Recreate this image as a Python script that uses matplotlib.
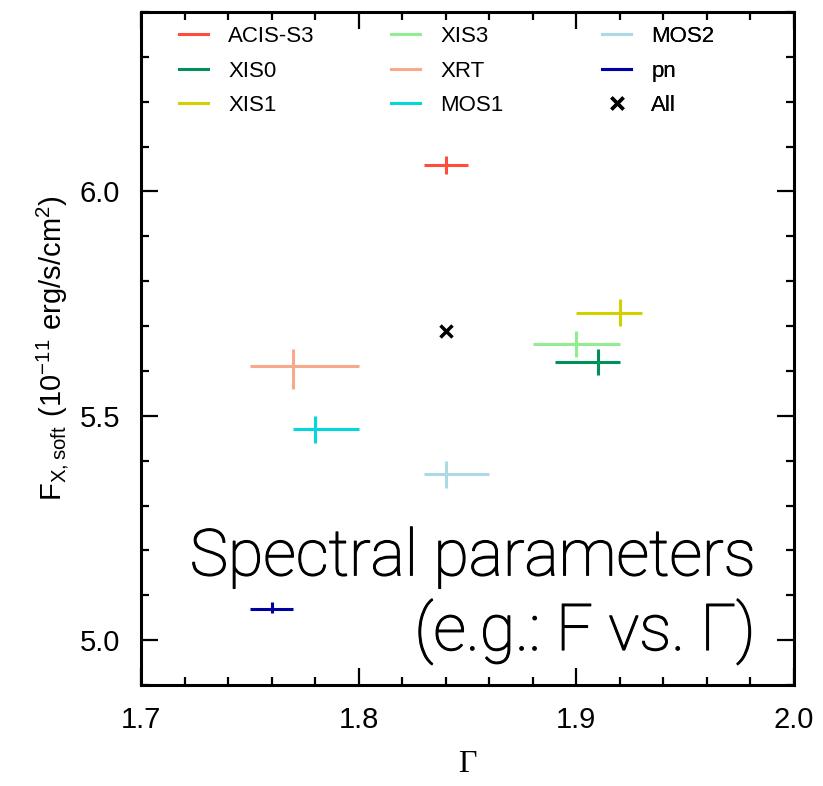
import matplotlib
matplotlib.use('Agg')
import matplotlib.pyplot as plt
import matplotlib.patheffects as pe
from matplotlib.lines import Line2D
from matplotlib.ticker import MultipleLocator

# instruments and their best-fit values
names = ['ACIS-S3', 'XIS0', 'XIS1', 'XIS3', 'XRT', 'MOS1', 'MOS2', 'pn']
gamma = [1.84, 1.91, 1.92, 1.90, 1.77, 1.78, 1.84, 1.76]
gamma_lo = [0.01, 0.02, 0.02, 0.02, 0.02, 0.01, 0.01, 0.01]
gamma_hi = [0.01, 0.01, 0.01, 0.02, 0.03, 0.02, 0.02, 0.01]
flux = [6.06, 5.62, 5.73, 5.66, 5.61, 5.47, 5.37, 5.07]
flux_lo = [0.02, 0.03, 0.03, 0.03, 0.05, 0.03, 0.03, 0.01]
flux_hi = [0.02, 0.03, 0.03, 0.03, 0.04, 0.03, 0.03, 0.015]
colors = ['#ff4d3d', '#00905a', '#d4d000', '#90ee90', '#f8a98c', '#00d8dc', '#add8e6', '#0000a0']

# joint fit
all_gamma = 1.84
all_flux = 5.69

plt.rcParams['font.family'] = ['Liberation Sans', 'DejaVu Sans']

fig = plt.figure(figsize=(8.23, 7.86), dpi=100)
ax = fig.add_axes([141/823, 1 - 685/786, 653/823, 673/786])

for i in range(len(names)):
    ax.errorbar(gamma[i], flux[i],
                xerr=[[gamma_lo[i]], [gamma_hi[i]]],
                yerr=[[flux_lo[i]], [flux_hi[i]]],
                fmt='none', ecolor=colors[i], elinewidth=2.2, capsize=0)
ax.plot(all_gamma, all_flux, 'x', color='k', ms=9, mew=2.5)

ax.set_xlim(1.7, 2.0)
ax.set_ylim(4.9, 6.4)
ax.xaxis.set_major_locator(MultipleLocator(0.1))
ax.xaxis.set_minor_locator(MultipleLocator(0.02))
ax.yaxis.set_major_locator(MultipleLocator(0.5))
ax.yaxis.set_minor_locator(MultipleLocator(0.1))
ax.xaxis.set_major_formatter(plt.FormatStrFormatter('%.1f'))
ax.yaxis.set_major_formatter(plt.FormatStrFormatter('%.1f'))
ax.tick_params(which='both', direction='in', top=True, right=True,
               labelsize=21, pad=15)
ax.tick_params(which='major', length=12, width=1.6)
ax.tick_params(which='minor', length=6, width=1.6)
for s in ax.spines.values():
    s.set_linewidth(2.2)

ax.set_xlabel('Γ', fontsize=23, family='Liberation Serif', labelpad=12)
ax.set_ylabel(r'$\mathregular{F_{X,soft}\ (10^{-11}\ erg/s/cm^2)}$', fontsize=21, labelpad=6)

# legend, one column at a time
handles = [Line2D([], [], color=c, lw=2.2) for c in colors]
handles.append(Line2D([], [], color='k', marker='x', ls='none', ms=8, mew=2.5))
labels = names + ['All']
col_x = [0.045, 0.37, 0.693]
for k in range(3):
    leg = ax.legend(handles[3*k:3*k+3], labels[3*k:3*k+3], loc='upper left',
                    bbox_to_anchor=(col_x[k], 0.992), frameon=False, fontsize=16,
                    handlelength=1.3, handletextpad=0.9, labelspacing=0.6,
                    borderaxespad=0.0)
    ax.add_artist(leg)

# big caption, light face thickened a little
thick = [pe.withStroke(linewidth=0.9, foreground='k')]
ax.text(0.942, 0.163, 'Spectral parameters', transform=ax.transAxes,
        ha='right', va='baseline', fontsize=46.5, family='Roboto', weight='light',
        path_effects=thick)
ax.text(0.942, 0.052, '(e.g.: F vs. Γ)', transform=ax.transAxes,
        ha='right', va='baseline', fontsize=46.5, family='Roboto', weight='light',
        path_effects=thick)

fig.savefig('out.png', dpi=100)
